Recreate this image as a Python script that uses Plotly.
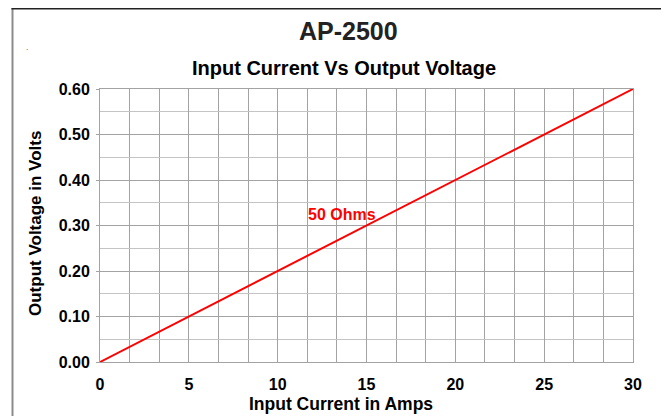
import plotly.graph_objects as go

# Data
current_amps = [0, 5, 10, 15, 20, 25, 30]
output_volts = [0.00, 0.10, 0.20, 0.30, 0.40, 0.50, 0.60]
series_name = "50 Ohms"
x_tick_vals = [0, 5, 10, 15, 20, 25, 30]
x_tick_labels = ["0", "5", "10", "15", "20", "25", "30"]
y_tick_vals = [0.0, 0.1, 0.2, 0.3, 0.4, 0.5, 0.6]
y_tick_labels = ["0.00", "0.10", "0.20", "0.30", "0.40", "0.50", "0.60"]

# page offset (body margin of 8px)
OFF = 8
W, H = 669 - OFF, 416 - OFF
PL, PR, PT, PB = 100, 633, 89, 362  # plot area in page pixels
L, T = PL - OFF, PT - OFF
R = W - (PR - OFF)
B = H - (PB - OFF)
PW, PH = PR - PL, PB - PT


def px(x):
    return (x - PL) / PW


def py(y):
    return (PB - y) / PH


FONT = "Liberation Sans, Arial, sans-serif"
GRID = "#a3a3a3"

fig = go.Figure()
fig.add_trace(go.Scatter(
    x=current_amps, y=output_volts, mode="lines", name=series_name,
    line=dict(color="#ff0000", width=2), showlegend=False,
))

fig.update_layout(
    width=W, height=H,
    margin=dict(l=L, r=R, t=T, b=B, autoexpand=False),
    paper_bgcolor="white", plot_bgcolor="white",
    font=dict(family=FONT, color="#000000"),
    showlegend=False,
    xaxis=dict(
        range=[0, 30], tickvals=x_tick_vals, ticktext=x_tick_labels,
        tickfont=dict(size=16, family=FONT, color="#000", weight="bold"),
        showgrid=True, gridcolor=GRID, gridwidth=1,
        minor=dict(dtick=5 / 3, tick0=0, showgrid=True, gridcolor=GRID, gridwidth=1),
        showline=True, linecolor=GRID, linewidth=1, mirror=True,
        ticks="", zeroline=False, automargin=False, ticklabelstandoff=8,
    ),
    yaxis=dict(
        range=[0, 0.6], tickvals=y_tick_vals, ticktext=y_tick_labels,
        tickfont=dict(size=16, family=FONT, color="#000", weight="bold"),
        showgrid=True, gridcolor=GRID, gridwidth=1,
        minor=dict(dtick=0.05, tick0=0, showgrid=True, gridcolor="#c4c4c4", gridwidth=1),
        showline=True, linecolor=GRID, linewidth=1, mirror=True,
        ticks="outside", ticklen=3, tickcolor=GRID, zeroline=False,
        automargin=False, ticklabelstandoff=3,
    ),
)

fig.add_annotation(
    x=13.6, y=0.324, xref="x", yref="y", text="<b>50 Ohms</b>", showarrow=False,
    font=dict(size=16, color="#ff0000", family=FONT),
)
fig.add_annotation(
    x=px(348), y=py(31), xref="paper", yref="paper", text="<b>AP-2500</b>",
    showarrow=False, font=dict(size=25, family=FONT, color="#222"),
    xanchor="center", yanchor="middle",
)
fig.add_annotation(
    x=px(344), y=py(68), xref="paper", yref="paper", text="<b>Input Current Vs Output Voltage</b>",
    showarrow=False, font=dict(size=20, family=FONT, color="#000"),
    xanchor="center", yanchor="middle",
)
fig.add_annotation(
    x=px(341), y=py(404), xref="paper", yref="paper", text="<b>Input Current in Amps</b>",
    showarrow=False, font=dict(size=17.5, family=FONT, color="#000"),
    xanchor="center", yanchor="middle",
)
fig.add_annotation(
    x=px(35), y=py(224), xref="paper", yref="paper", text="<b>Output Voltage in Volts</b>",
    showarrow=False, font=dict(size=17, family=FONT, color="#000"), textangle=-90,
    xanchor="center", yanchor="middle",
)
fig.add_annotation(
    x=px(27), y=py(47), xref="paper", yref="paper", text=".",
    showarrow=False, font=dict(size=8, family=FONT, color="#333"),
    xanchor="center", yanchor="middle",
)

# frame
fig.add_shape(type="line", xref="paper", yref="paper", x0=px(12.5), x1=px(12.5), y0=py(8), y1=py(430),
              line=dict(color="#8c8c8c", width=2))
fig.add_shape(type="line", xref="paper", yref="paper", x0=px(663), x1=px(663), y0=py(8), y1=py(430),
              line=dict(color="#8c8c8c", width=2))
fig.add_shape(type="line", xref="paper", yref="paper", x0=px(11.5), x1=px(664), y0=py(8.75), y1=py(8.75),
              line=dict(color="#222222", width=1.5))

fig.write_html("out.html")
